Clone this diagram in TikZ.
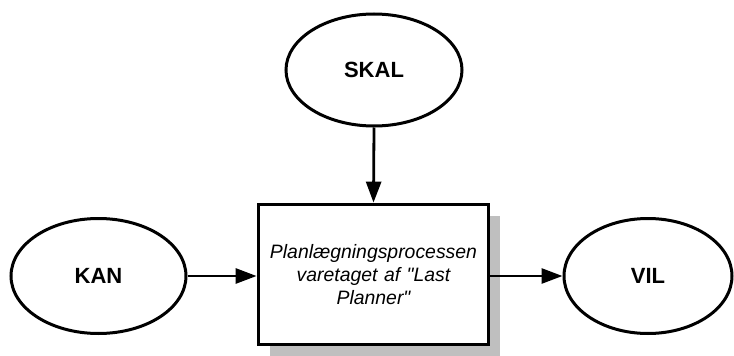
\documentclass[tikz,border=0pt]{standalone}
\usepackage{fontspec}
% family without the TeX quote mapping, so " stays a straight quote
\newfontfamily\arialfont{Liberation Sans}
\usetikzlibrary{shapes.geometric,arrows.meta,shadows}

\tikzset{
  goal/.style={ellipse, draw=black, line width=3pt, fill=white, inner sep=0pt,
    font=\arialfont\fontsize{22}{26}\selectfont\bfseries},
  process/.style={rectangle, draw=black, line width=3.8pt, fill=white,
    minimum width=230pt, minimum height=140pt, inner sep=2pt, align=center,
    text width=226pt,
    font=\arialfont\fontsize{19.4}{23.3}\selectfont\itshape,
    drop shadow={shadow xshift=11pt, shadow yshift=-11pt, fill=gray!50, opacity=1}},
  flow/.style={line width=2.8pt, -{Triangle[length=21pt,width=15pt]}}
}

\begin{document}
\begin{tikzpicture}[x=1pt,y=-1pt]
  \useasboundingbox (0,0) rectangle (734,356);

  % process box in the middle
  \node[process] (plan) at (373.5,274.5)
    {Planlægningsprocessen\\varetaget af "Last\\Planner"};

  % the three inputs/outputs
  \node[goal, minimum width=176pt, minimum height=112pt] (skal) at (374,70) {SKAL};
  \node[goal, minimum width=175pt, minimum height=115pt] (kan) at (98.5,276) {KAN};
  \node[goal, minimum width=168pt, minimum height=115pt] (vil) at (648,276) {VIL};

  % connectors
  \draw[flow] (skal.south) -- (plan.north);
  \draw[flow] (kan.east) -- (kan.east -| plan.west);
  \draw[flow] (plan.east |- vil.west) -- (vil.west);
\end{tikzpicture}
\end{document}
